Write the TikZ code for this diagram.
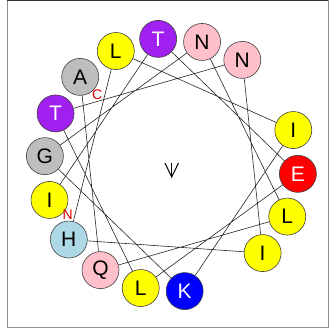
\documentclass[tikz,border=0pt]{standalone}
\usepackage{fontspec}
\setmainfont{Liberation Sans}
\definecolor{rpurple}{HTML}{A020F0}
\definecolor{rpink}{HTML}{FFC0CB}
\definecolor{rgray}{HTML}{BEBEBE}
\definecolor{rlblue}{HTML}{ADD8E6}
\definecolor{ryellow}{HTML}{FFFF00}
\definecolor{rred}{HTML}{FF0000}
\definecolor{rblue}{HTML}{0000FF}
\begin{document}
\begin{tikzpicture}[x=1pt,y=1pt,
  res/.style={circle, draw=black!75, line width=0.6pt, minimum size=37pt, inner sep=0pt,
              font=\fontsize{21}{21}\selectfont},
  yel/.style={res, fill=ryellow, text=black},
  pnk/.style={res, fill=rpink, text=black},
  gry/.style={res, fill=rgray, text=black},
  lbl/.style={res, fill=rlblue, text=black},
  pur/.style={res, fill=rpurple, text=white},
  redc/.style={res, fill=rred, text=white},
  blu/.style={res, fill=rblue, text=white},
  link/.style={line width=0.6pt, black!85},
  term/.style={text=red!90!black, font=\fontsize{14}{14}\selectfont, inner sep=0pt}]
\useasboundingbox (0,0) rectangle (329,329);
\draw[black!45, line width=1pt] (7,1) rectangle (328,328);
\draw[black!80, line width=1pt] (7,328) -- (328,328);
\coordinate (C) at (171.4,164);
\path (C) ++(196:126.8) node[yel]  (r1)  {I};
\path (C) ++(96:126.8)  node[pur]  (r2)  {T};
\path (C) ++(356:126.8) node[redc] (r3)  {E};
\path (C) ++(256:126.8) node[yel]  (r4)  {L};
\path (C) ++(156:126.8) node[pur]  (r5)  {T};
\path (C) ++(56:126.8)  node[pnk]  (r6)  {N};
\path (C) ++(316:126.8) node[yel]  (r7)  {I};
\path (C) ++(216:126.8) node[lbl]  (r8)  {H};
\path (C) ++(116:126.8) node[yel]  (r9)  {L};
\path (C) ++(16:126.8)  node[yel]  (r10) {I};
\path (C) ++(276:126.8) node[blu]  (r11) {K};
\path (C) ++(176:126.8) node[gry]  (r12) {G};
\path (C) ++(76:126.8)  node[pnk]  (r13) {N};
\path (C) ++(336:126.8) node[yel]  (r14) {L};
\path (C) ++(236:126.8) node[pnk]  (r15) {Q};
\path (C) ++(136:126.8) node[gry]  (r16) {A};
\draw[link] (r1) -- (r2) -- (r3) -- (r4) -- (r5) -- (r6) -- (r7) -- (r8)
  -- (r9) -- (r10) -- (r11) -- (r12) -- (r13) -- (r14) -- (r15) -- (r16);
\node[term] (nt) at (67.8,114.5) {N};
\node[term] (ct) at (97.2,234.7) {C};
\coordinate (a0) at (171.7,166);
\coordinate (a1) at (171.7,152);
\coordinate (aw1) at (164.9,166);
\coordinate (aw2) at (178.5,166);
\draw[line width=1pt] (a0) -- (a1);
\draw[line width=1pt] (aw1) -- (a1) -- (aw2);
\end{tikzpicture}
\end{document}
